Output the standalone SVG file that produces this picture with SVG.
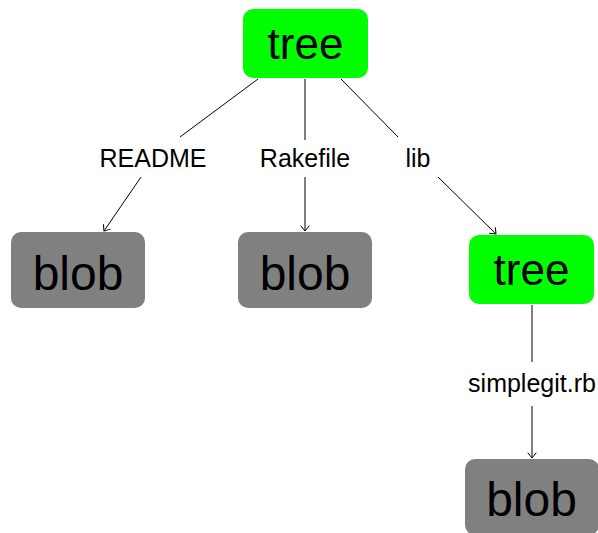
<svg xmlns="http://www.w3.org/2000/svg" width="598" height="533" viewBox="0 0 598 533">
  <style>
    .tree rect { fill: #00ff00; }
    .blob rect { fill: #808080; }
    .node text { font-family: "Liberation Sans", "DejaVu Sans", sans-serif; fill: #000; text-anchor: middle; }
    .tree text { font-size: 44px; }
    .blob text { font-size: 48px; }
    .edge line { stroke: #000; stroke-width: 1; fill: none; }
    .edge .head { marker-end: url(#to); }
    .label { font-family: "Liberation Sans", "DejaVu Sans", sans-serif; font-size: 25px; fill: #000; text-anchor: middle; }
  </style>
  <defs>
    <marker id="to" viewBox="-6 -5 8 10" markerWidth="8" markerHeight="10" refX="0" refY="0" orient="auto" markerUnits="userSpaceOnUse">
      <path d="M -5 -4 Q -1 -1 0 0 Q -1 1 -5 4" fill="none" stroke="#000" stroke-width="1" stroke-linecap="round"/>
    </marker>
  </defs>

  <!-- connectors -->
  <g id="edges">
    <g class="edge" id="e-readme">
      <line x1="258" y1="79" x2="180" y2="137"/>
      <line class="head" x1="141" y1="177" x2="104" y2="231"/>
      <text class="label" x="153" y="167">README</text>
    </g>
    <g class="edge" id="e-rakefile">
      <line x1="305" y1="79" x2="305" y2="140"/>
      <line class="head" x1="305" y1="177" x2="305" y2="231"/>
      <text class="label" x="305" y="167">Rakefile</text>
    </g>
    <g class="edge" id="e-lib">
      <line x1="341" y1="79" x2="398" y2="137"/>
      <line class="head" x1="438" y1="177" x2="496" y2="234"/>
      <text class="label" x="418" y="167">lib</text>
    </g>
    <g class="edge" id="e-simplegit">
      <line x1="532" y1="305" x2="532" y2="362"/>
      <line class="head" x1="532" y1="406" x2="532" y2="458"/>
      <text class="label" x="532" y="392">simplegit.rb</text>
    </g>
  </g>

  <!-- nodes -->
  <g id="root-tree" class="node tree">
    <rect x="243" y="9" width="125" height="69" rx="10"/>
    <text x="305.5" y="59">tree</text>
  </g>
  <g id="blob-readme" class="node blob">
    <rect x="11" y="232" width="134" height="76" rx="10"/>
    <text x="78" y="290">blob</text>
  </g>
  <g id="blob-rakefile" class="node blob">
    <rect x="238" y="232" width="134" height="76" rx="10"/>
    <text x="305" y="290">blob</text>
  </g>
  <g id="lib-tree" class="node tree">
    <rect x="469" y="235" width="125" height="69" rx="10"/>
    <text x="531.5" y="285">tree</text>
  </g>
  <g id="blob-simplegit" class="node blob">
    <rect x="465" y="459" width="134" height="76" rx="10"/>
    <text x="531.5" y="516">blob</text>
  </g>
</svg>
